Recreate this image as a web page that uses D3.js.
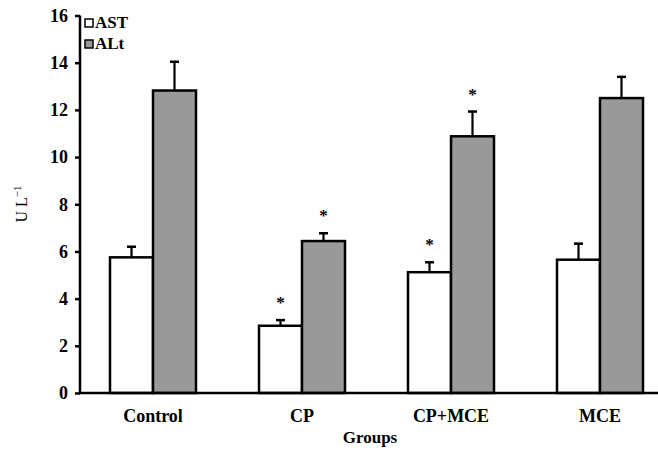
<!DOCTYPE html>
<html>
<head>
<meta charset="utf-8">
<script src="https://d3js.org/d3.v7.min.js"></script>
<style>
  body { margin: 0; background: #fff; }
</style>
</head>
<body>
<div id="chart"></div>
<script>
// data
const groups = ["Control", "CP", "CP+MCE", "MCE"];
const series = ["AST", "ALt"];
const astMean = [5.75, 2.85, 5.12, 5.65];
const astErr = [0.45, 0.24, 0.42, 0.68];
const altMean = [12.82, 6.44, 10.88, 12.5];
const altErr = [1.22, 0.33, 1.05, 0.9];
const astStar = [false, true, true, false];
const altStar = [false, true, true, false];
const yTicks = [0, 2, 4, 6, 8, 10, 12, 14, 16];

const FONT = "'Liberation Serif', 'Times New Roman', 'DejaVu Serif', serif";
const W = 658, H = 451;
const svg = d3.select("#chart").append("svg")
  .attr("width", W).attr("height", H)
  .style("font-family", FONT);

const fills = { AST: "#ffffff", ALt: "#999999" };

const y = d3.scaleLinear().domain([0, 16]).range([393, 15.5]);
const x0 = d3.scaleBand().domain(groups).range([78.5, 674.5]);
const pairW = 86;
const x1 = d3.scaleBand().domain(series).range([0, pairW]);

// flatten into rows
const rows = [];
groups.forEach((g, i) => {
  rows.push({ g, s: "AST", v: astMean[i], e: astErr[i], star: astStar[i] });
  rows.push({ g, s: "ALt", v: altMean[i], e: altErr[i], star: altStar[i] });
});
const bx = d => x0(d.g) + (x0.bandwidth() - pairW) / 2 + x1(d.s);
const cx = d => bx(d) + x1.bandwidth() / 2;

// error bars (behind bars)
const eb = svg.append("g").attr("stroke", "#000").attr("stroke-width", 2.2);
eb.selectAll("line.v").data(rows).enter().append("line")
  .attr("x1", cx).attr("x2", cx)
  .attr("y1", d => y(d.v)).attr("y2", d => y(d.v + d.e));
eb.selectAll("line.c").data(rows).enter().append("line")
  .attr("x1", d => cx(d) - 4.5).attr("x2", d => cx(d) + 4.5)
  .attr("y1", d => y(d.v + d.e)).attr("y2", d => y(d.v + d.e))
  .attr("stroke-width", 2.5);

// bars
svg.append("g").selectAll("rect").data(rows).enter().append("rect")
  .attr("x", bx)
  .attr("y", d => y(d.v))
  .attr("width", x1.bandwidth())
  .attr("height", d => y(0) - y(d.v))
  .attr("fill", d => fills[d.s])
  .attr("stroke", "#000")
  .attr("stroke-width", 2.5);

// significance stars
svg.append("g").selectAll("text").data(rows.filter(d => d.star)).enter().append("text")
  .attr("x", cx)
  .attr("y", d => y(d.v + d.e) - 12)
  .attr("text-anchor", "middle")
  .style("font-family", FONT)
  .attr("font-size", 17)
  .attr("font-weight", "bold")
  .text("*");

// y axis
const yAxis = svg.append("g")
  .attr("transform", "translate(80,0)")
  .call(d3.axisLeft(y).tickValues(yTicks).tickSize(5).tickPadding(7));
yAxis.select(".domain").attr("stroke-width", 2.5).attr("d", "M0," + y(16) + "V" + y(0));
yAxis.selectAll(".tick line").attr("stroke-width", 2.5);
yAxis.selectAll(".tick text")
  .style("font-family", FONT)
  .attr("font-size", 18).attr("font-weight", "bold").attr("fill", "#000");

// x axis
const xAxis = svg.append("g")
  .attr("transform", "translate(0," + y(0) + ")")
  .call(d3.axisBottom(x0).tickSize(0).tickPadding(16));
xAxis.select(".domain").attr("stroke-width", 2.5).attr("d", "M78.5,0H658");
xAxis.selectAll(".tick text")
  .style("font-family", FONT)
  .attr("font-size", 18).attr("font-weight", "bold").attr("fill", "#000");

// axis titles
svg.append("text")
  .attr("x", 370).attr("y", 443)
  .attr("text-anchor", "middle")
  .style("font-family", FONT)
  .attr("font-size", 17).attr("font-weight", "bold").attr("fill", "#000")
  .text("Groups");

const yt = svg.append("text")
  .attr("transform", "translate(27,204) rotate(-90)")
  .attr("text-anchor", "middle")
  .style("font-family", FONT)
  .attr("fill", "#000")
  .attr("font-size", 16);
yt.append("tspan").text("U L");
yt.append("tspan").attr("dy", -6).attr("font-size", 11).text("\u22121");

// legend
const leg = svg.append("g").selectAll("g").data(series).enter().append("g")
  .attr("transform", (d, i) => "translate(85," + (19 + i * 21) + ")");
leg.append("rect")
  .attr("width", 8).attr("height", 8)
  .attr("fill", d => fills[d])
  .attr("stroke", "#000").attr("stroke-width", 1.5);
leg.append("text")
  .attr("x", 10).attr("y", 9)
  .style("font-family", FONT)
  .attr("fill", "#000")
  .attr("font-size", 17).attr("font-weight", "bold")
  .text(d => d);
</script>
</body>
</html>
